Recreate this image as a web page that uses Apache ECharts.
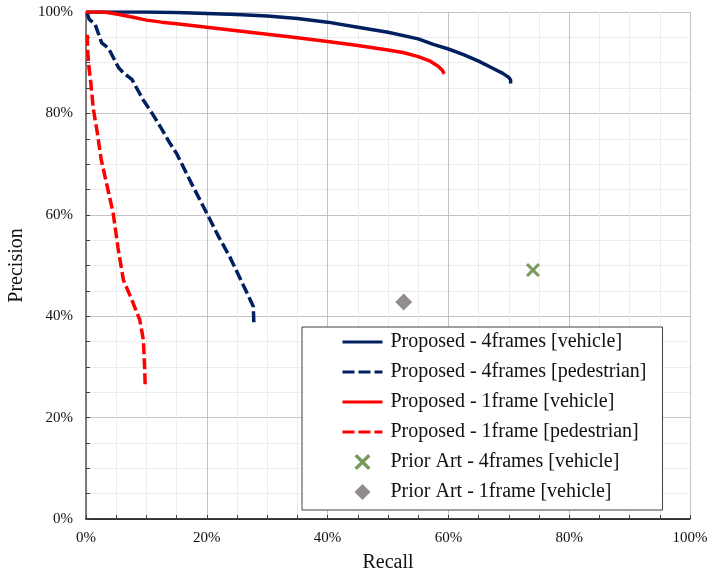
<!DOCTYPE html>
<html>
<head>
<meta charset="utf-8">
<script src="https://cdn.jsdelivr.net/npm/echarts@6/dist/echarts.min.js"></script>
<style>
  html, body { margin: 0; padding: 0; background: #fff; }
  #chart { width: 707px; height: 572px; }
</style>
</head>
<body>
<div id="chart"></div>
<script>
// Precision–recall curves, values in percent: [recall, precision]
const seriesNames = [
  'Proposed - 4frames [vehicle]',
  'Proposed - 4frames [pedestrian]',
  'Proposed - 1frame [vehicle]',
  'Proposed - 1frame [pedestrian]',
  'Prior Art - 4frames [vehicle]',
  'Prior Art - 1frame [vehicle]'
];

const proposed4Vehicle = [
  [0, 100], [5, 100], [10, 100], [15, 99.9], [20, 99.7], [25, 99.5], [30, 99.2],
  [35, 98.7], [40, 98.0], [45, 97.0], [50, 96.0], [55, 94.7], [57.5, 93.6],
  [60, 92.7], [62.5, 91.6], [65, 90.3], [67.5, 88.8], [69, 87.9], [70, 87.1],
  [70.3, 86.6], [70.3, 85.9]
];

const proposed4Pedestrian = [
  [0.2, 99.8], [0.5, 98.6], [1.5, 97.6], [2.6, 93.9], [3.7, 92.9], [5.4, 89.0],
  [6.2, 88.0], [7.6, 86.7], [9.5, 82.6], [10.9, 80.1], [12.3, 77.4], [13.9, 74.1],
  [15.0, 72.1], [17.5, 66.1], [20.0, 60.3], [22.0, 55.6], [23.8, 51.7],
  [25.5, 47.5], [27.2, 43.2], [27.7, 41.9], [27.8, 38.3]
];

const proposed1Vehicle = [
  [0, 100], [3, 100], [5.5, 99.5], [8, 98.9], [10, 98.4], [12.5, 98.0],
  [15, 97.7], [20, 97.0], [25, 96.3], [30, 95.6], [35, 94.9], [40, 94.2],
  [45, 93.4], [50, 92.5], [52.5, 92.0], [55, 91.2], [57, 90.3], [58.3, 89.3],
  [59, 88.5], [59.3, 87.8]
];

const proposed1Pedestrian = [
  [0.2, 95.5], [0.3, 92], [0.5, 89], [0.8, 86], [1.2, 81], [1.9, 76], [2.5, 71],
  [3.4, 66.2], [4.5, 60.3], [5.3, 53.5], [6.2, 47.1], [7.6, 43.2], [8.9, 39.3],
  [9.5, 35.3], [9.7, 30], [9.8, 26.1]
];

const priorArt4Vehicle = [[74.0, 49.1]];
const priorArt1Vehicle = [[52.6, 42.8]];

const axisTicks = [0, 20, 40, 60, 80, 100];

const NAVY = '#002060';
const RED = '#ff0000';
const GREEN = '#548235';
const GREY = '#767171';
const SERIF = '"Liberation Serif", "Times New Roman", serif';
const DASH = [11, 4];

const crossPath = 'path://M0,3 L3,0 L10,7 L17,0 L20,3 L13,10 L20,17 L17,20 L10,13 L3,20 L0,17 L7,10 Z';
const diamondPath = 'path://M10,0 L20,10 L10,20 L0,10 Z';

function curve(name, data, color, dashed) {
  return {
    name: name,
    type: 'line',
    data: data,
    symbol: 'none',
    smooth: false,
    lineStyle: { color: color, width: 3.5, type: dashed ? DASH : 'solid', cap: 'butt' },
    itemStyle: { color: color },
    z: 3
  };
}

function valueAxis(extra) {
  return Object.assign({
    type: 'value',
    min: axisTicks[0],
    max: axisTicks[axisTicks.length - 1],
    interval: axisTicks[1] - axisTicks[0],
    minorTick: { show: true, splitNumber: 4, length: 4, lineStyle: { color: '#404040' } },
    minorSplitLine: { show: true, lineStyle: { color: '#ececec', width: 1 } },
    splitLine: { show: true, lineStyle: { color: '#c4c4c4', width: 1 } },
    axisTick: { show: true, inside: true, length: 4, lineStyle: { color: '#404040' } },
    nameTextStyle: { fontFamily: SERIF, fontSize: 20, color: '#111' }
  }, extra);
}

const chart = echarts.init(document.getElementById('chart'), null, { renderer: 'canvas' });

chart.setOption({
  animation: false,
  backgroundColor: '#fff',
  grid: { left: 86, right: 17, top: 12, bottom: 53, containLabel: false, outerBoundsMode: 'none' },
  xAxis: valueAxis({
    name: 'Recall',
    nameLocation: 'middle',
    nameGap: 34,
    axisLine: { show: true, lineStyle: { color: '#000', width: 1.5 } },
    axisLabel: { formatter: '{value}%', fontFamily: SERIF, fontSize: 15, color: '#111', margin: 12 }
  }),
  yAxis: valueAxis({
    name: 'Precision',
    nameLocation: 'middle',
    nameGap: 58,
    axisLine: { show: true, lineStyle: { color: '#595959', width: 1.5 } },
    axisLabel: { formatter: '{value}%', fontFamily: SERIF, fontSize: 15, color: '#111', margin: 13 }
  }),
  legend: {
    orient: 'vertical',
    left: 302,
    top: 327,
    padding: [5, 16, 8, 39],
    itemGap: 10,
    itemWidth: 40,
    itemHeight: 16,
    borderColor: '#404040',
    borderWidth: 1,
    backgroundColor: '#fff',
    textStyle: { fontFamily: SERIF, fontSize: 20, lineHeight: 20, color: '#111', padding: [0, 0, 0, 3] },
    data: seriesNames.map(function (n, i) {
      // line entries show only the stroke sample, no marker dot
      return i < 4
        ? { name: n, itemStyle: { opacity: 0 }, lineStyle: { width: 3, type: i % 2 ? [12, 4] : 'solid' } }
        : { name: n };
    })
  },
  series: [
    curve(seriesNames[0], proposed4Vehicle, NAVY, false),
    curve(seriesNames[1], proposed4Pedestrian, NAVY, true),
    curve(seriesNames[2], proposed1Vehicle, RED, false),
    curve(seriesNames[3], proposed1Pedestrian, RED, true),
    {
      name: seriesNames[4],
      type: 'scatter',
      data: priorArt4Vehicle,
      symbol: crossPath,
      symbolSize: 14,
      itemStyle: { color: GREEN },
      z: 4
    },
    {
      name: seriesNames[5],
      type: 'scatter',
      data: priorArt1Vehicle,
      symbol: diamondPath,
      symbolSize: 17,
      itemStyle: { color: GREY },
      z: 4
    }
  ]
});
</script>
</body>
</html>
